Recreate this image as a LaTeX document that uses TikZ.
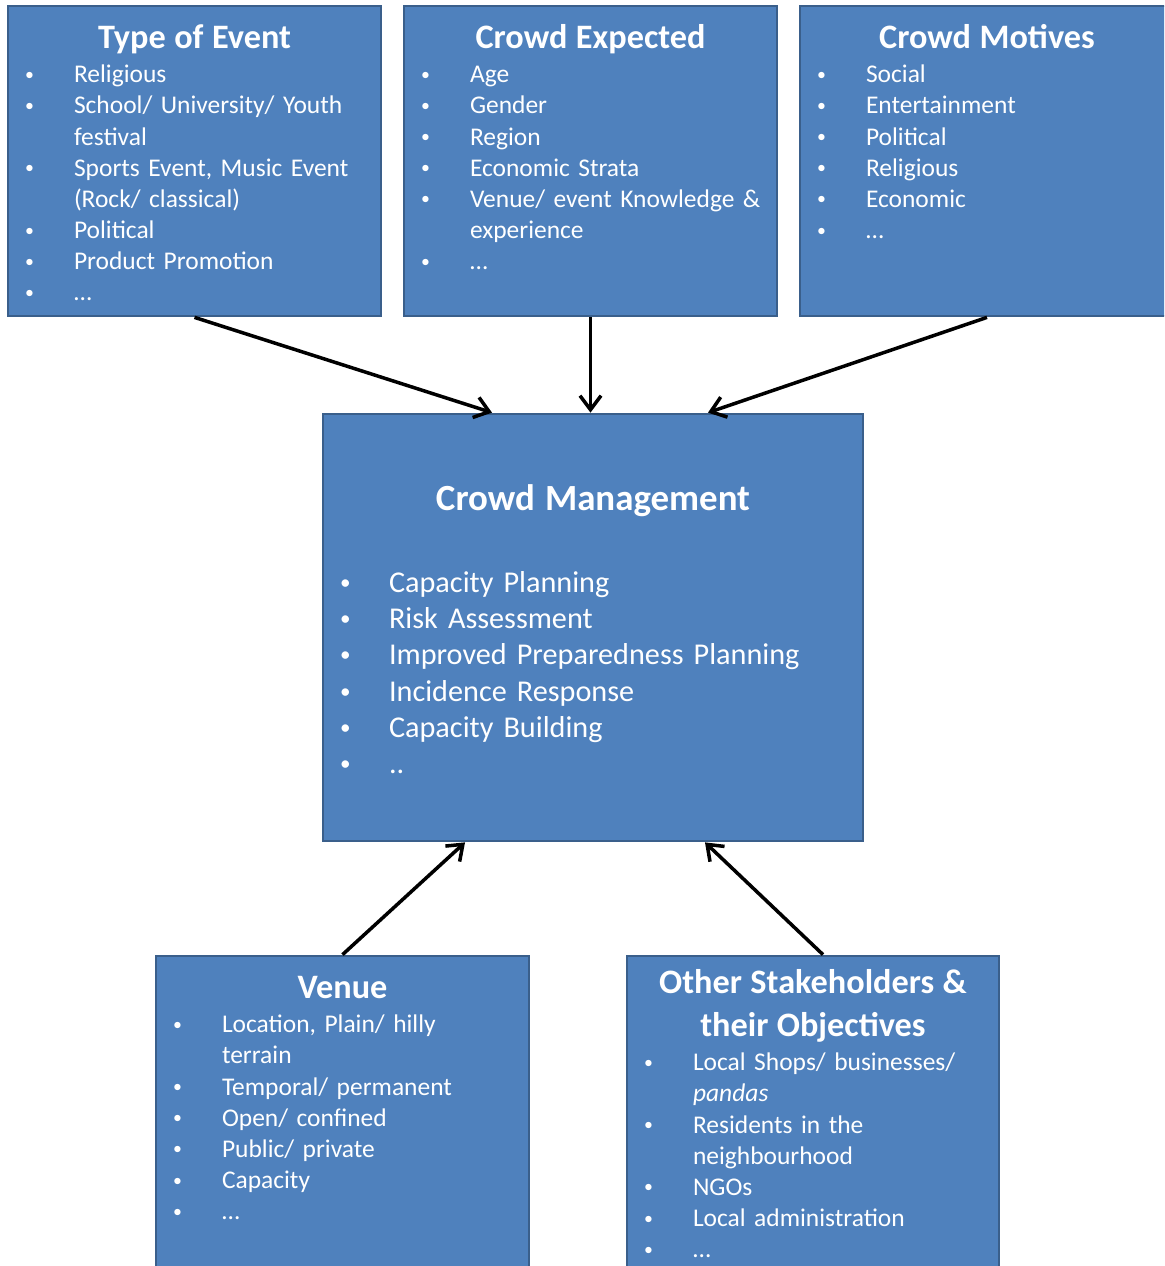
\documentclass[tikz,border=0pt]{standalone}
\usepackage{fontspec}
\setmainfont{Carlito}
\usetikzlibrary{positioning,arrows.meta}

\definecolor{boxfill}{HTML}{4F81BD}
\definecolor{boxline}{HTML}{3A5F8B}

\newcommand{\itemfont}{\fontsize{14.5}{17.75}\selectfont}
\newcommand{\cmfont}{\fontsize{17.2}{20.6}\selectfont}
\newcommand{\ttl}[3][19.5]{{\centering\noindent\fontsize{#1}{24.2}\selectfont\bfseries\rule{0pt}{0.6cm}#2\par}\vspace{#3}}
\newcommand{\bitem}[1]{\hangindent=1.32cm\hangafter=1\noindent\makebox[1.32cm][l]{\hspace{0.34cm}\raisebox{0.1em}{\scalebox{0.7}{\textbullet}}}#1\par}

\begin{document}
\begin{tikzpicture}[x=0.02cm, y=-0.02cm,
  box/.style={draw=boxline, fill=boxfill, line width=1.6pt, inner sep=0pt},
  txt/.style={text=white, inner sep=0pt, align=left, font=\itemfont},
  link/.style={-{Straight Barb[length=8pt, width=12pt]}, line width=2pt}]
  \clip (0,0) rectangle (1164,1266);

  % Type of Event
  \node[box, minimum width=7.46cm, minimum height=6.2cm] (type) at (194.5,161) {};
  \node[txt, text width=7.46cm, below=0.27cm of type.north] (type_txt) {%
    \ttl{Type of Event}{1.7pt}
    \bitem{Religious}
    \bitem{School/ University/ Youth\newline festival}
    \bitem{Sports Event, Music Event\newline (Rock/ classical)}
    \bitem{Political}
    \bitem{Product Promotion}
    \bitem{\ldots}};

  % Crowd Expected
  \node[box, minimum width=7.46cm, minimum height=6.2cm] (expected) at (590.5,161) {};
  \node[txt, text width=7.46cm, below=0.27cm of expected.north] (expected_txt) {%
    \ttl{Crowd Expected}{1.7pt}
    \bitem{Age}
    \bitem{Gender}
    \bitem{Region}
    \bitem{Economic Strata}
    \bitem{Venue/ event Knowledge \&\newline experience}
    \bitem{\ldots}};

  % Crowd Motives
  \node[box, minimum width=7.48cm, minimum height=6.2cm] (motives) at (987,161) {};
  \node[txt, text width=7.48cm, below=0.27cm of motives.north] (motives_txt) {%
    \ttl{Crowd Motives}{1.7pt}
    \bitem{Social}
    \bitem{Entertainment}
    \bitem{Political}
    \bitem{Religious}
    \bitem{Economic}
    \bitem{\ldots}};

  % Crowd Management
  \node[box, minimum width=10.8cm, minimum height=8.54cm] (cm) at (593,627.5) {};
  \node[txt, font=\cmfont, text width=10.8cm, below=1.36cm of cm.north] (cm_txt) {%
    \ttl[21]{Crowd Management}{25.8pt}
    \bitem{Capacity Planning}
    \bitem{Risk Assessment}
    \bitem{Improved Preparedness Planning}
    \bitem{Incidence Response}
    \bitem{Capacity Building}
    \bitem{..}};

  % Venue
  \node[box, minimum width=7.46cm, minimum height=6.48cm] (venue) at (342.5,1118) {};
  \node[txt, text width=7.46cm, below=0.27cm of venue.north] (venue_txt) {%
    \ttl{Venue}{1.7pt}
    \bitem{Location, Plain/ hilly\newline terrain}
    \bitem{Temporal/ permanent}
    \bitem{Open/ confined}
    \bitem{Public/ private}
    \bitem{Capacity}
    \bitem{\ldots}};

  % Other stakeholders
  \node[box, minimum width=7.44cm, minimum height=6.48cm] (others) at (813,1118) {};
  \node[txt, text width=7.44cm, below=0.18cm of others.north] (others_txt) {%
    \ttl{Other Stakeholders \&\\ their Objectives}{1.7pt}
    \bitem{Local Shops/ businesses/\newline \textit{pandas}}
    \bitem{Residents in the\newline neighbourhood}
    \bitem{NGOs}
    \bitem{Local administration}
    \bitem{\ldots}};

  % Links
  \draw[link] (type.south) -- ([xshift=-2.02cm]cm.north);
  \draw[link] (expected.south) -- (expected.south |- cm.north);
  \draw[link] (motives.south) -- ([xshift=2.3cm]cm.north);
  \draw[link] (venue.north) -- ([xshift=-2.56cm]cm.south);
  \draw[link] ([xshift=0.2cm]others.north) -- ([xshift=2.24cm]cm.south);
\end{tikzpicture}
\end{document}
